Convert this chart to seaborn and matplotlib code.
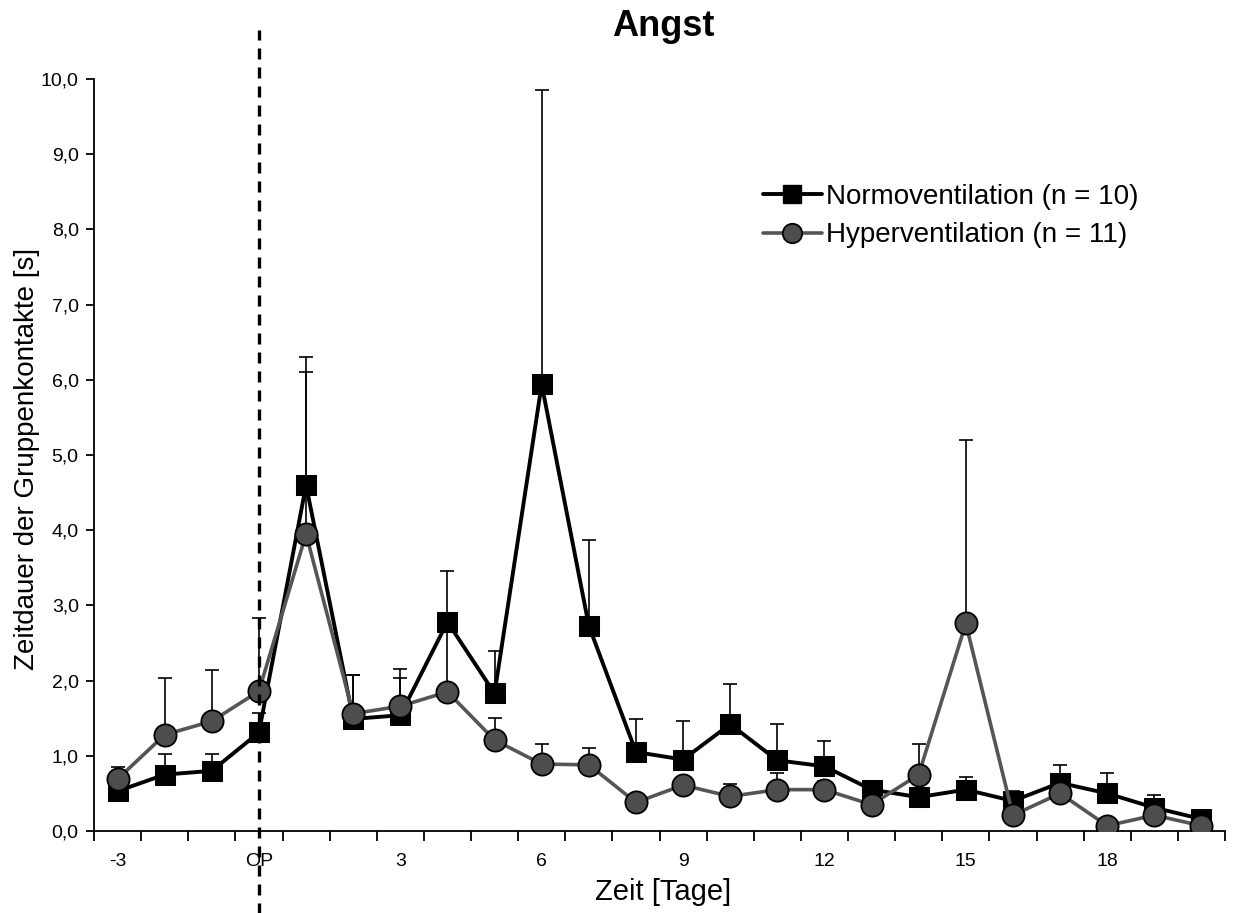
import numpy as np
import pandas as pd
import matplotlib
matplotlib.use("Agg")
import matplotlib.pyplot as plt
from matplotlib.lines import Line2D
from matplotlib.ticker import FuncFormatter, FixedLocator
import seaborn as sns

days = list(range(-3, 21))
normo_mean = [0.53, 0.75, 0.80, 1.31, 4.60, 1.49, 1.54, 2.78, 1.83, 5.94, 2.73, 1.05,
              0.95, 1.42, 0.94, 0.86, 0.55, 0.45, 0.55, 0.40, 0.64, 0.50, 0.31, 0.16]
normo_sd = [0.15, 0.27, 0.23, 0.26, 1.70, 0.58, 0.49, 0.68, 0.57, 3.91, 1.14, 0.44,
            0.51, 0.54, 0.48, 0.34, 0.08, 0.06, 0.17, 0.13, 0.24, 0.27, 0.17, 0.04]
hyper_mean = [0.69, 1.28, 1.46, 1.86, 3.95, 1.56, 1.66, 1.85, 1.21, 0.89, 0.88, 0.38,
              0.61, 0.46, 0.55, 0.55, 0.35, 0.75, 2.76, 0.21, 0.50, 0.07, 0.21, 0.07]
hyper_sd = [0.16, 0.75, 0.68, 0.97, 2.15, 0.51, 0.50, 0.80, 0.29, 0.27, 0.23, 0.05,
            0.08, 0.17, 0.22, 0.12, 0.10, 0.41, 2.44, 0.10, 0.10, 0.03, 0.05, 0.02]
tick_days = [-3, 0, 3, 6, 9, 12, 15, 18]
tick_labels = ["-3", "OP", "3", "6", "9", "12", "15", "18"]
label_normo = "Normoventilation (n = 10)"
label_hyper = "Hyperventilation (n = 11)"

sns.set_style("ticks")
plt.rcParams['font.family'] = ['Liberation Sans', 'DejaVu Sans']
for k in ['text.color', 'axes.labelcolor', 'xtick.color', 'ytick.color', 'axes.edgecolor']:
    plt.rcParams[k] = 'black'

df_n = pd.DataFrame({"Tag": days, "Wert": normo_mean})
df_h = pd.DataFrame({"Tag": days, "Wert": hyper_mean})

fig = plt.figure(figsize=(12.36, 9.13), dpi=100)
ax = fig.add_axes([94 / 1236, 1 - 831 / 913, (1225 - 94) / 1236, (831 - 79) / 913])

# error bars (upwards only)
ax.errorbar(days, normo_mean, yerr=[np.zeros(len(days)), normo_sd], fmt='none',
            ecolor='black', elinewidth=1.2, capsize=5, capthick=1.2, zorder=2)
ax.errorbar(days, hyper_mean, yerr=[np.zeros(len(days)), hyper_sd], fmt='none',
            ecolor='black', elinewidth=1.2, capsize=5, capthick=1.2, zorder=2)

sns.lineplot(data=df_n, x="Tag", y="Wert", ax=ax, color='black', lw=2.8,
             marker='s', markersize=14, markerfacecolor='black', markeredgecolor='black',
             zorder=3, legend=False)
sns.lineplot(data=df_h, x="Tag", y="Wert", ax=ax, color='#555555', lw=2.6,
             marker='o', markersize=16, markerfacecolor='#4d4d4d', markeredgecolor='black',
             markeredgewidth=1.3, zorder=4, legend=False)

# dashed OP line extending beyond axes
ax.axvline(0, ymin=-0.12, ymax=1.065, color='black', lw=2.4, ls=(0, (3.3, 2.4)),
           clip_on=False, zorder=5)

ax.set_xlim(-3.5, 20.5)
ax.set_ylim(0, 10)
ax.set_yticks(np.arange(0, 10.01, 1.0))
ax.yaxis.set_major_formatter(FuncFormatter(lambda v, p: f"{v:.1f}".replace('.', ',')))
ax.set_xticks(tick_days)
ax.set_xticklabels(tick_labels)
ax.xaxis.set_minor_locator(FixedLocator(np.arange(-3.5, 20.6, 1.0)))
ax.tick_params(axis='x', which='major', length=0, pad=16, labelsize=14)
ax.tick_params(axis='x', which='minor', length=7, width=1.3, direction='out')
ax.tick_params(axis='y', which='major', length=6, width=1.3, labelsize=14, pad=5)

for s in ['top', 'right']:
    ax.spines[s].set_visible(False)
for s in ['left', 'bottom']:
    ax.spines[s].set_linewidth(1.3)

ax.set_xlabel("Zeit [Tage]", fontsize=21)
ax.xaxis.set_label_coords(0.503, -0.063)
ax.set_ylabel("Zeitdauer der Gruppenkontakte [s]", fontsize=20)
ax.yaxis.set_label_coords(-0.048, 0.495)
fig.text(663 / 1236, 1 - 26 / 913, "Angst", ha='center', va='center',
         fontsize=26, fontweight='bold')

handles = [
    Line2D([], [], color='black', lw=2.8, marker='s', markersize=13,
           markerfacecolor='black', markeredgecolor='black'),
    Line2D([], [], color='#555555', lw=2.6, marker='o', markersize=14,
           markerfacecolor='#4d4d4d', markeredgecolor='black', markeredgewidth=1.3),
]
fig.legend(handles, [label_normo, label_hyper], loc='upper left',
           bbox_to_anchor=(763 / 1236, 1 - 184 / 913), bbox_transform=fig.transFigure,
           frameon=False, fontsize=20, borderpad=0, borderaxespad=0,
           handlelength=2.12, handletextpad=0.15, labelspacing=0.45)

fig.savefig("out.png", dpi=100)
